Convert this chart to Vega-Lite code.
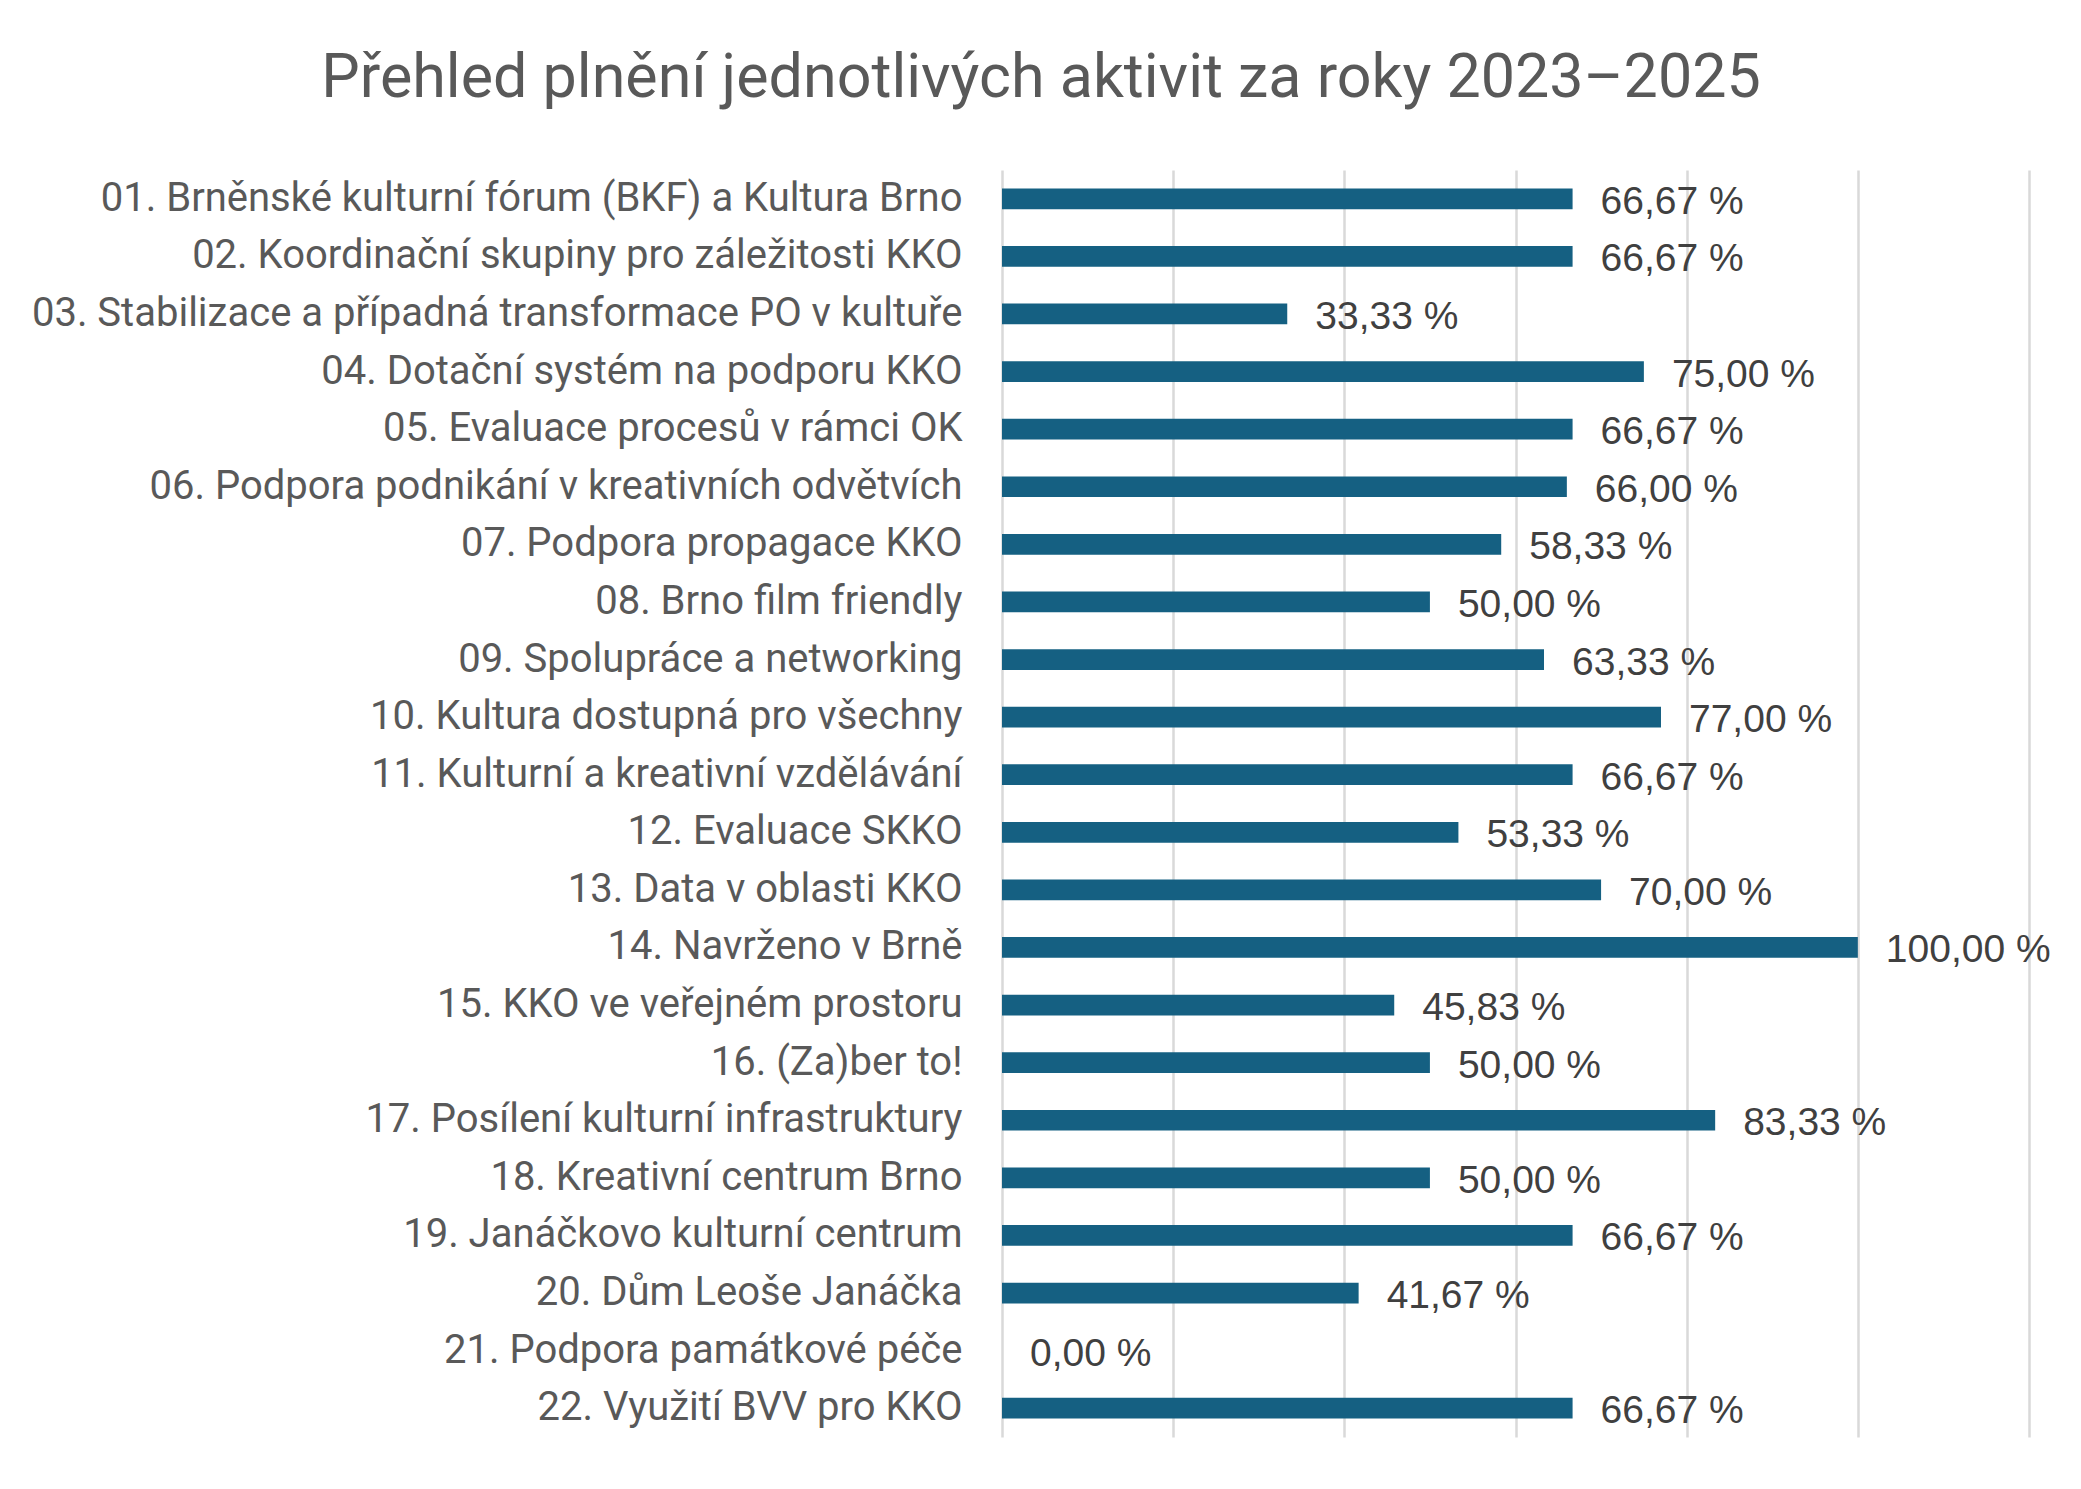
{
  "$schema": "https://vega.github.io/schema/vega-lite/v6.json",
  "title": {
    "text": "Přehled plnění jednotlivých aktivit za roky 2023–2025",
    "anchor": "middle",
    "frame": "bounds",
    "offset": 60,
    "dx": 0,
    "fontSize": 61,
    "font": "Roboto",
    "fontWeight": "normal",
    "color": "#595959"
  },
  "width": 1027,
  "height": 1267,
  "autosize": {"type": "none"},
  "padding": {"left": 1002, "top": 170, "right": 52, "bottom": 52},
  "data": {
    "values": [
      {"aktivita": "01. Brněnské kulturní fórum (BKF) a Kultura Brno", "plneni": 66.67},
      {"aktivita": "02. Koordinační skupiny pro záležitosti KKO", "plneni": 66.67},
      {"aktivita": "03. Stabilizace a případná transformace PO v kultuře", "plneni": 33.33},
      {"aktivita": "04. Dotační systém na podporu KKO", "plneni": 75},
      {"aktivita": "05. Evaluace procesů v rámci OK", "plneni": 66.67},
      {"aktivita": "06. Podpora podnikání v kreativních odvětvích\u00a0", "plneni": 66},
      {"aktivita": "07. Podpora propagace KKO", "plneni": 58.33},
      {"aktivita": "08. Brno film friendly", "plneni": 50},
      {"aktivita": "09. Spolupráce a networking", "plneni": 63.33},
      {"aktivita": "10. Kultura dostupná pro všechny", "plneni": 77},
      {"aktivita": "11. Kulturní a kreativní vzdělávání\u00a0", "plneni": 66.67},
      {"aktivita": "12. Evaluace SKKO", "plneni": 53.33},
      {"aktivita": "13. Data v oblasti KKO", "plneni": 70},
      {"aktivita": "14. Navrženo v Brně", "plneni": 100},
      {"aktivita": "15. KKO ve veřejném prostoru", "plneni": 45.83},
      {"aktivita": "16. (Za)ber to!", "plneni": 50},
      {"aktivita": "17. Posílení kulturní infrastruktury", "plneni": 83.33},
      {"aktivita": "18. Kreativní centrum Brno", "plneni": 50},
      {"aktivita": "19. Janáčkovo kulturní centrum", "plneni": 66.67},
      {"aktivita": "20. Dům Leoše Janáčka", "plneni": 41.67},
      {"aktivita": "21. Podpora památkové péče", "plneni": 0},
      {"aktivita": "22. Využití BVV pro KKO", "plneni": 66.67}
    ]
  },
  "encoding": {
    "y": {
      "field": "aktivita",
      "type": "nominal",
      "sort": null,
      "title": null,
      "scale": {"paddingInner": 0.64, "paddingOuter": 0.32},
      "axis": {
        "ticks": false,
        "domain": false,
        "labelPadding": 40,
        "labelLimit": 0,
        "labelFont": "Roboto",
        "labelFontSize": 40,
        "labelColor": "#595959"
      }
    },
    "x": {
      "field": "plneni",
      "type": "quantitative",
      "title": null,
      "scale": {"domain": [0, 120], "nice": false},
      "axis": {
        "values": [0, 20, 40, 60, 80, 100, 120],
        "labels": false,
        "ticks": false,
        "domain": false,
        "grid": true,
        "gridColor": "#d9d9d9",
        "gridWidth": 2.5
      }
    }
  },
  "layer": [
    {
      "mark": {"type": "bar", "color": "#156082"}
    },
    {
      "mark": {
        "type": "text",
        "align": "left",
        "baseline": "middle",
        "dx": 28,
        "dy": 3,
        "font": "Liberation Sans",
        "fontSize": 39,
        "color": "#404040"
      },
      "encoding": {
        "text": {"field": "plneni", "type": "quantitative", "format": "$.2f"}
      }
    }
  ],
  "config": {
    "view": {"stroke": null},
    "locale": {
      "number": {
        "decimal": ",",
        "thousands": " ",
        "grouping": [3],
        "currency": ["", " %"]
      }
    }
  }
}
